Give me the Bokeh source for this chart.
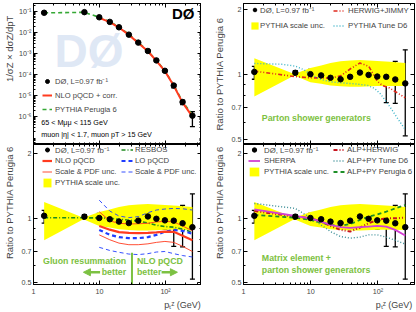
from bokeh.plotting import figure
from bokeh.layouts import gridplot
from bokeh.models import (Range1d, FixedTicker, LogAxis, Legend, LegendItem, Label,
                          Whisker, TeeHead, ColumnDataSource, Arrow, NormalHead)
from bokeh.core.properties import value
from bokeh.embed import file_html
from bokeh.resources import INLINE

FONT = "Liberation Sans"

# ---------------- data ----------------
PT = [1.45, 5.9, 9.9, 14.3, 19.7, 27.8, 38.6, 54, 72.6, 97.7, 133, 181, 255]

# normalised distribution (top-left)
DIST = [0.087, 0.093, 0.053, 0.032, 0.0177, 0.0079, 0.0033, 0.00132, 4.7e-4, 1.5e-4, 3.0e-5, 4.9e-6, 1.1e-6]
DIST_HI = [0.092, 0.095, 0.056, 0.0338, 0.0180, 0.0080, 0.00337, 0.00141, 4.96e-4, 1.58e-4, 3.3e-5, 6.0e-6, 1.7e-6]
DIST_LO = [0.082, 0.091, 0.050, 0.0300, 0.0168, 0.0075, 0.00314, 0.00125, 4.4e-4, 1.36e-4, 2.3e-5, 3.7e-6, 3.3e-7]
PYTHIA_DIST = [0.086, 0.091, 0.053, 0.0325, 0.0183, 0.0083, 0.0034, 0.0013, 4.7e-4, 1.54e-4, 3.1e-5, 5.2e-6, 1.2e-6]
NLO_CORR_PT = [9.9, 14.3, 19.7, 27.8, 38.6, 54, 72.6, 97.7, 133, 181, 255]
NLO_CORR_DIST = [0.050, 0.031, 0.0172, 0.0077, 0.0032, 0.00128, 4.5e-4, 1.45e-4, 2.9e-5, 4.6e-6, 1.0e-6]

# data / PYTHIA Perugia 6
RATIO = [1.027, 1.018, 1.003, 0.99, 0.965, 0.95, 0.975, 1.02, 0.995, 0.978, 0.975, 0.948, 0.909]
RATIO_HI = [1.09, 1.04, 1.055, 1.055, 1.01, 0.99, 1.02, 1.07, 1.055, 1.055, 1.10, 1.15, 1.30]
RATIO_LO = [0.95, 0.99, 0.95, 0.93, 0.92, 0.91, 0.93, 0.965, 0.93, 0.89, 0.74, 0.735, 0.52]

# PYTHIA scale uncertainty band
BAND_PT = [1.45, 5.7, 9.9, 14.3, 19.7, 27.8, 38.6, 54, 97.7, 150, 255]
BAND_HI = [1.19, 1.005, 1.07, 1.10, 1.13, 1.15, 1.16, 1.165, 1.155, 1.145, 1.13]
BAND_LO = [0.79, 0.99, 0.92, 0.905, 0.89, 0.882, 0.878, 0.876, 0.885, 0.885, 0.883]

# top-right: parton shower generators
HJ_PT = [1.45, 5.9, 9.9, 19.7, 27.8, 38.6, 54, 73, 98, 116, 146, 194, 255]
HERWIG_JIMMY = [1.036, 0.977, 0.965, 0.962, 0.985, 1.06, 1.13, 1.09, 0.93, 0.89, 0.868, 0.822, 0.78]
D6_PT = [1.45, 3.7, 5.9, 8, 9.9, 14.3, 19.7, 27.8, 45, 70, 90, 110, 150, 200, 255]
PYTHIA_D6 = [1.124, 1.115, 1.093, 1.05, 1.0, 0.948, 0.925, 0.915, 0.905, 0.89, 0.86, 0.81, 0.71, 0.62, 0.556]

# bottom-left: pQCD / resummation
RESBOS = [1.007, 1.005, 1.005, 1.0, 0.99, 0.98, 0.972, 0.95, 0.928, 0.915, 0.909, 0.89, 0.86]
QCD_PT = [9.9, 14.3, 19.7, 27.8, 38.6, 54, 72.6, 97.7, 133, 181, 255]
NLO = [0.92, 0.885, 0.862, 0.855, 0.852, 0.855, 0.86, 0.867, 0.865, 0.83, 0.79]
NLO_UP = [1.074, 0.972, 0.948, 0.941, 0.943, 0.948, 0.962, 0.968, 0.962, 0.921, 0.874]
NLO_DN = [0.837, 0.794, 0.766, 0.753, 0.753, 0.76, 0.772, 0.78, 0.772, 0.74, 0.70]
LO = [0.883, 0.837, 0.817, 0.808, 0.808, 0.817, 0.837, 0.867, 0.883, 0.874, 0.846]
LO_UP = [1.215, 1.081, 1.025, 1.007, 1.018, 1.062, 1.093, 1.105, 1.112, 1.108, 1.093]
LO_DN = [0.732, 0.708, 0.694, 0.681, 0.677, 0.684, 0.696, 0.70, 0.684, 0.67, 0.66]

# bottom-right: matrix element + parton shower
SHERPA = [1.10, 1.025, 1.0, 0.965, 0.931, 0.909, 0.902, 0.909, 0.915, 0.921, 0.915, 0.883, 0.831]
ALP_HERWIG = [1.081, 1.018, 1.0, 0.965, 0.921, 0.883, 0.867, 0.905, 0.948, 0.982, 1.0, 1.0, 1.007]
D6B_PT = [1.45, 5.9, 8.5, 14.3, 19.7, 27.8, 38.6, 54, 72.6, 97.7, 133, 181, 255]
ALP_PY_D6 = [1.173, 1.112, 1.036, 0.931, 0.867, 0.822, 0.808, 0.817, 0.837, 0.837, 0.817, 0.79, 0.758]
ALP_PY_P6 = [1.036, 1.007, 0.982, 0.955, 0.931, 0.921, 0.941, 0.982, 1.018, 1.043, 1.074, 1.112, 1.153]

# axes
X_RANGE = (1, 350)
XTICKS = [1, 10, 100]
XTICK_LABELS = ["1", "10", "10\u00b2"]
DIST_RANGE = (10 ** -7.33, 10 ** -0.62)
DIST_TICKS = [1e-6, 1e-5, 1e-4, 1e-3, 1e-2, 1e-1]
DIST_TICK_LABELS = ["10\u207b\u2076", "10\u207b\u2075", "10\u207b\u2074", "10\u207b\u00b3", "10\u207b\u00b2", "10\u207b\u00b9"]
RATIO_RANGE_TOP = (0.474, 2.13)
RATIO_RANGE_BOT = (0.491, 2.21)
RATIO_TICKS = [0.5, 0.7, 1, 2]
RATIO_TICK_LABELS = ["0.5", "0.7", "1", "2"]
RATIO_MINOR = [0.6, 0.8, 0.9]

X_TITLE = "p\u209c\u1dbb (GeV)"
DIST_TITLE = "1/\u03c3Z \u00d7 d\u03c3Z/dpT"
RATIO_TITLE = "Ratio to PYTHIA Perugia 6"

X_MINOR = [m * 10 ** e for e in range(0, 3) for m in range(2, 10) if m * 10 ** e < 350]
DIST_MINOR = [m * 10 ** e for e in range(-8, 0) for m in range(2, 10)]

# layout (pixels)
LB, FWL, GAP, FWR, RB = 31, 170, 42, 171, 2
TB, FHT, FHB, BB = 3, 141, 141, 27

YELLOW = "#ffff00"
GREEN_TXT = "#7cc142"
RED = "#ff3b1f"
BLUE = "#1f3cff"
LEG_FONT = "7.8px"
TXT_GREEN_SIZE = 8.8
NBSP = "\u00a0"


def style_axis(ax, ticks, minor, labels, show):
    ax.ticker = FixedTicker(ticks=ticks, minor_ticks=minor)
    ax.major_tick_in = 4
    ax.major_tick_out = 0
    ax.minor_tick_in = 2
    ax.minor_tick_out = 0
    ax.axis_line_color = "black"
    ax.major_tick_line_color = "black"
    ax.minor_tick_line_color = "black"
    ax.major_label_overrides = dict(zip(ticks, labels))
    ax.major_label_text_font = FONT
    ax.axis_label_text_font = FONT
    ax.axis_label_text_font_style = "normal"
    if show:
        ax.major_label_text_font_size = "7.2px"
        ax.major_label_standoff = 2
    else:
        ax.major_label_text_font_size = "1px"
        ax.major_label_text_alpha = 0
        ax.major_label_standoff = 0


def make_fig(w, h, yr, borders, yticks, yminor, ylabels, show_x):
    p = figure(width=w, height=h, x_axis_type="log", y_axis_type="log",
               x_range=Range1d(*X_RANGE), y_range=Range1d(*yr),
               output_backend="svg", toolbar_location=None,
               min_border_left=borders[0], min_border_right=borders[1],
               min_border_top=borders[2], min_border_bottom=borders[3])
    p.grid.visible = False
    p.outline_line_color = "black"
    p.outline_line_width = 1
    bottom_axis = p.below[0]
    left_axis = p.left[0]
    style_axis(bottom_axis, XTICKS, X_MINOR, XTICK_LABELS, show_x)
    style_axis(left_axis, yticks, yminor, ylabels, True)
    ra = LogAxis()
    style_axis(ra, yticks, yminor, ylabels, False)
    p.add_layout(ra, "right")
    ta = LogAxis()
    style_axis(ta, XTICKS, X_MINOR, XTICK_LABELS, False)
    p.add_layout(ta, "above")
    return p, bottom_axis, left_axis


def add_label(p, x, y, text, size, units="screen", align="left", baseline="middle",
              color="black", bold=False):
    p.add_layout(Label(x=x, y=y, x_units=units, y_units=units, text=text,
                       text_font=FONT, text_font_size=f"{size}px", text_align=align,
                       text_baseline=baseline, text_color=color,
                       text_font_style="bold" if bold else "normal"))


def add_legend(p, items, x, y, gw, gh, lh, spacing, standoff, size=LEG_FONT):
    leg = Legend(items=[LegendItem(label=value(l), renderers=[r]) for l, r in items],
                 location=(x, y), glyph_width=gw, glyph_height=gh, label_height=lh,
                 spacing=spacing, label_standoff=standoff, padding=0, margin=0,
                 border_line_color=None, background_fill_alpha=0,
                 label_text_font=FONT, label_text_font_size=size)
    p.add_layout(leg)


def data_points(p, y, hi, lo):
    src = ColumnDataSource(dict(x=PT, y=y, hi=hi, lo=lo))
    p.add_layout(Whisker(source=src, base="x", upper="hi", lower="lo", line_color="black",
                         line_width=1.3,
                         upper_head=TeeHead(size=5, line_color="black", line_width=1.3),
                         lower_head=TeeHead(size=5, line_color="black", line_width=1.3)))
    return p.scatter("x", "y", source=src, marker="circle", size=5.5, color="black")


def ratio_fig(top, left):
    fw = FWL if left else FWR
    w = LB + fw if left else GAP + fw + RB
    h = TB + FHT if top else FHB + BB
    borders = (LB if left else GAP, 0 if left else RB, TB if top else 0, 0 if top else BB)
    p, xa, ya = make_fig(w, h, RATIO_RANGE_TOP if top else RATIO_RANGE_BOT, borders,
                         RATIO_TICKS, RATIO_MINOR, RATIO_TICK_LABELS, not top)
    # bottom-row titles sit a little above the frame centre
    ya.axis_label = (NBSP * 9 if not top else "") + RATIO_TITLE
    ya.axis_label_text_font_size = "9.5px"
    ya.axis_label_standoff = 4
    band = p.varea(x=BAND_PT, y1=BAND_LO, y2=BAND_HI, fill_color=YELLOW, fill_alpha=1)
    if not top:
        # centred title padded on the left so that it ends at the right edge of the frame
        xa.axis_label = NBSP * 52 + X_TITLE
        xa.axis_label_text_font_size = "9px"
        xa.axis_label_standoff = 1
    return p, band


# ---------------- top-left: distribution ----------------
p1, _, ya1 = make_fig(LB + FWL, TB + FHT, DIST_RANGE, (LB, 0, TB, 0), DIST_TICKS, DIST_MINOR,
                      DIST_TICK_LABELS, False)
ya1.axis_label = NBSP * 19 + DIST_TITLE
ya1.axis_label_text_font_size = "9.5px"
ya1.axis_label_standoff = 0
add_label(p1, 55.5, 94, "D\u00d8", 46, align="center", color="#dfe8f5", bold=True)
g1 = p1.line(PT, PYTHIA_DIST, line_color="#35a835", line_width=1.6, line_dash="4 3")
r1 = p1.line(NLO_CORR_PT, NLO_CORR_DIST, line_color=RED, line_width=2)
d1 = data_points(p1, DIST, DIST_HI, DIST_LO)
add_legend(p1, [("D\u00d8, L=0.97 fb\u207b\u00b9", d1), ("NLO pQCD + corr.", r1),
                ("PYTHIA Perugia 6", g1)], 9, 28, 10, 14, 14, 0, 3, "7.6px")
add_label(p1, 7.7, 21.7, "65 < M\u03bc\u03bc < 115 GeV", 7.2)
add_label(p1, 7.7, 9.7, "muon |\u03b7| < 1.7, muon pT > 15 GeV", 7.2)
add_label(p1, 161, 131, "D\u00d8", 15, align="right", bold=True)

# ---------------- top-right: parton shower ----------------
p2, b2 = ratio_fig(True, False)
h2 = p2.line(HJ_PT, HERWIG_JIMMY, line_color="#e02a1e", line_width=1.6, line_dash="4 2 1 2 1 2")
c2 = p2.line(D6_PT, PYTHIA_D6, line_color="#3bb3c8", line_width=1.4, line_dash="1 2")
d2 = data_points(p2, RATIO, RATIO_HI, RATIO_LO)
add_legend(p2, [("D\u00d8, L=0.97 fb\u207b\u00b9", d2), ("PYTHIA scale unc.", b2)],
           7, 114.5, 9, 9, 9, 6, 1)
add_legend(p2, [("HERWIG+JIMMY", h2), ("PYTHIA Tune D6", c2)], 90, 114.5, 12, 9, 9, 6, 3)
add_label(p2, 18.3, 26.7, "Parton shower generators", TXT_GREEN_SIZE, color=GREEN_TXT, bold=True)

# ---------------- bottom-left: pQCD ----------------
p3, b3 = ratio_fig(False, True)
rs = p3.line(PT, RESBOS, line_color="#1f8a1f", line_width=1.6, line_dash="4 2 1 2")
nu = p3.line(QCD_PT, NLO_UP, line_color=RED, line_width=0.9)
p3.line(QCD_PT, NLO_DN, line_color=RED, line_width=0.9)
lu = p3.line(QCD_PT, LO_UP, line_color=BLUE, line_width=0.9, line_dash="4 3")
p3.line(QCD_PT, LO_DN, line_color=BLUE, line_width=0.9, line_dash="4 3")
lo = p3.line(QCD_PT, LO, line_color=BLUE, line_width=2.2, line_dash="4 3")
nl = p3.line(QCD_PT, NLO, line_color=RED, line_width=2.2)
d3 = data_points(p3, RATIO, RATIO_HI, RATIO_LO)
add_legend(p3, [("D\u00d8, L=0.97 fb\u207b\u00b9", d3), ("NLO pQCD", nl),
                ("Scale & PDF unc.", nu), ("PYTHIA scale unc.", b3)], 9, 95.8, 10, 11, 11, 0, 3)
add_legend(p3, [("RESBOS", rs), ("LO pQCD", lo), ("Scale & PDF unc.", lu)], 88, 106.8, 12, 11, 11, 0, 2)
DIVIDE_PT = 31
DIVIDE_Y = (0.491, 0.69)
p3.segment(x0=[DIVIDE_PT], y0=[DIVIDE_Y[0]], x1=[DIVIDE_PT], y1=[DIVIDE_Y[1]],
           line_color=GREEN_TXT, line_width=2)
add_label(p3, 25.3, 0.63, "Gluon resummation", TXT_GREEN_SIZE, units="data", align="right", color=GREEN_TXT, bold=True)
add_label(p3, 25.3, 0.56, "better", TXT_GREEN_SIZE, units="data", align="right", color=GREEN_TXT, bold=True)
add_label(p3, 36.9, 0.63, "NLO pQCD", TXT_GREEN_SIZE, units="data", color=GREEN_TXT, bold=True)
add_label(p3, 36.9, 0.56, "better", TXT_GREEN_SIZE, units="data", color=GREEN_TXT, bold=True)
p3.add_layout(Arrow(end=NormalHead(size=7, fill_color=GREEN_TXT, line_color=GREEN_TXT),
                    x_start=10.2, y_start=0.56, x_end=5.7, y_end=0.56,
                    line_color=GREEN_TXT, line_width=2.5))
p3.add_layout(Arrow(end=NormalHead(size=7, fill_color=GREEN_TXT, line_color=GREEN_TXT),
                    x_start=87, y_start=0.56, x_end=151, y_end=0.56,
                    line_color=GREEN_TXT, line_width=2.5))

# ---------------- bottom-right: ME + PS ----------------
p4, b4 = ratio_fig(False, False)
ah = p4.line(PT, ALP_HERWIG, line_color="#c8141e", line_width=2, line_dash="4 2 1 2 1 2")
ad = p4.line(D6B_PT, ALP_PY_D6, line_color="#3a8d96", line_width=1.4, line_dash="1 2")
ap = p4.line(PT, ALP_PY_P6, line_color="#1e8f28", line_width=1.8, line_dash="4 3")
sh = p4.line(PT, SHERPA, line_color="#d23fd2", line_width=1.8)
d4 = data_points(p4, RATIO, RATIO_HI, RATIO_LO)
add_legend(p4, [("D\u00d8, L=0.97 fb\u207b\u00b9", d4), ("SHERPA", sh), ("PYTHIA scale unc.", b4)],
           5, 106.8, 12, 11, 11, 0, 4)
add_legend(p4, [("ALP+HERWIG", ah), ("ALP+PY Tune D6", ad), ("ALP+PY Perugia 6", ap)],
           90, 106.8, 12, 11, 11, 0, 2)
add_label(p4, 18.3, 26.7, "Matrix element +", TXT_GREEN_SIZE, color=GREEN_TXT, bold=True)
add_label(p4, 18.3, 15, "parton shower generators", TXT_GREEN_SIZE, color=GREEN_TXT, bold=True)

grid = gridplot([[p1, p2], [p3, p4]], toolbar_location=None)
open("out.html", "w").write(file_html(grid, INLINE))
